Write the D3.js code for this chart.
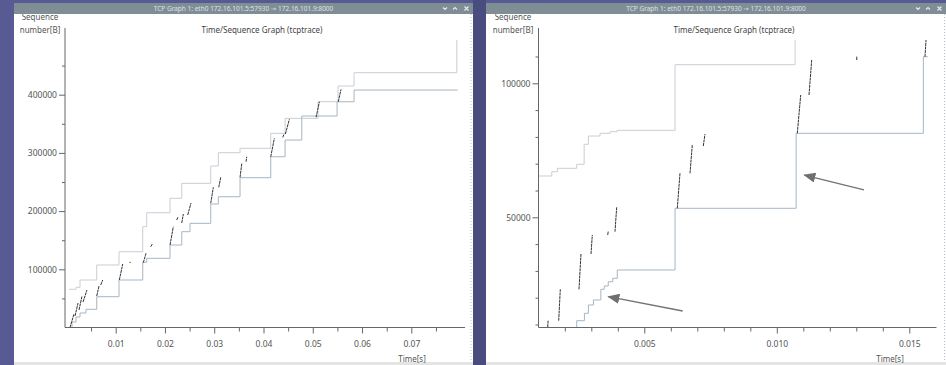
<!DOCTYPE html>
<html>
<head>
<meta charset="utf-8">
<script src="https://cdn.jsdelivr.net/npm/d3@7"></script>
<style>
  body { margin: 0; background: #56588e; }
  svg { display: block; font-family: "Noto Sans", "DejaVu Sans", sans-serif; }
</style>
</head>
<body>
<svg id="shot" width="946" height="365"></svg>
<script>
// Texts
const windowTitle = "TCP Graph 1: eth0 172.16.101.5:57930 \u2192 172.16.101.9:8000";
const chartTitle = "Time/Sequence Graph (tcptrace)";
const yLabelLines = ["Sequence", "number[B]"];
const xLabel = "Time[s]";

// ---- Left window: whole connection ----
// receive window line, step-after [time, seq]
const leftWin = [
  [0.00053, 65600], [0.00195, 69100], [0.00276, 81600], [0.00615, 107400],
  [0.01068, 130200], [0.01549, 173200], [0.0163, 197200], [0.02103, 222000],
  [0.02341, 247700], [0.02929, 277500], [0.03084, 300300], [0.03524, 307900],
  [0.04147, 333600], [0.04438, 359400], [0.05107, 387900], [0.05513, 414900],
  [0.05838, 437800], [0.07923, 560000]
];
// ack line, step-after [time, seq]
const leftAck = [
  [0.00012, 0], [0.00114, 9450], [0.00195, 18000], [0.00276, 24900],
  [0.00398, 31300], [0.00615, 52900], [0.01068, 81600], [0.01549, 112000],
  [0.0163, 118900], [0.02103, 141700], [0.02341, 164600], [0.02509, 179000],
  [0.02929, 212200], [0.03084, 224700], [0.03524, 257400], [0.04147, 293400],
  [0.04438, 322100], [0.04777, 363400], [0.05493, 387900], [0.05838, 408000],
  [0.0794, 408000]
];
// data segment bursts [t0, t1, seq0, seq1]
const leftSegs = [
  [0.00073, 0.00154, 0, 23200], [0.00175, 0.00236, 19800, 42100],
  [0.00256, 0.00317, 30100, 54100], [0.00337, 0.00418, 43800, 64400],
  [0.00615, 0.00662, 54100, 71300], [0.00696, 0.00737, 73000, 81600],
  [0.01074, 0.01143, 81600, 109100], [0.01291, 0.01295, 110800, 112800],
  [0.01561, 0.01616, 111300, 127500], [0.01711, 0.01744, 138800, 143400],
  [0.02103, 0.0217, 141700, 173200], [0.02239, 0.02266, 184700, 190400],
  [0.02341, 0.02373, 179500, 195000], [0.02462, 0.02529, 193300, 213900],
  [0.02929, 0.02982, 213400, 240900], [0.03092, 0.03132, 240900, 258000],
  [0.03524, 0.0356, 258000, 282100], [0.03646, 0.0366, 284900, 293400],
  [0.04147, 0.0422, 293400, 325000], [0.04391, 0.04418, 326800, 332400],
  [0.04444, 0.04525, 332400, 357700], [0.05067, 0.05134, 361100, 387900],
  [0.05518, 0.05573, 387900, 409200]
];
const leftXTicks = [0.01, 0.02, 0.03, 0.04, 0.05, 0.06, 0.07];
const leftXMinor = [0.005, 0.015, 0.025, 0.035, 0.045, 0.055, 0.065, 0.075];
const leftYTicks = [100000, 200000, 300000, 400000];
const leftYMinor = [50000, 150000, 250000, 350000, 450000];

// ---- Right window: zoom on the start ----
const rightWin = [
  [0.00102, 65410], [0.00151, 67010], [0.00172, 68280], [0.00245, 69770],
  [0.00273, 77240], [0.00289, 80330], [0.00333, 81340], [0.00371, 81940],
  [0.00398, 82460], [0.00616, 106930], [0.01069, 130000]
];
const rightAck = [
  [0.00245, 9000], [0.00245, 11420], [0.00274, 14180], [0.00289, 17280],
  [0.00308, 19150], [0.00336, 23140], [0.00349, 24370], [0.00364, 25970],
  [0.00381, 27240], [0.00398, 30340], [0.00616, 53360], [0.01073, 81340],
  [0.01553, 109920], [0.0157, 109920]
];
const rightSegs = [
  [0.001355, 0.00137, 9000, 11420], [0.00177, 0.00183, 11420, 23140],
  [0.002536, 0.002611, 23140, 36310], [0.002989, 0.003038, 36310, 43400],
  [0.003619, 0.003642, 43400, 44890], [0.003894, 0.003958, 44630, 53730],
  [0.006245, 0.006347, 53360, 66420], [0.006725, 0.006811, 66420, 76980],
  [0.007226, 0.007291, 76600, 81060], [0.010774, 0.010902, 81340, 95630],
  [0.011215, 0.011317, 95630, 108690], [0.013015, 0.01302, 108690, 110180],
  [0.015592, 0.015668, 109920, 122000]
];
// annotation arrows [tailT, tailSeq, tipT, tipSeq]
const rightArrows = [
  [0.006449, 15040, 0.003642, 20380],
  [0.013291, 60190, 0.011038, 65780]
];
const rightXTicks = [0.005, 0.010, 0.015];
const rightXMinor = [0.002, 0.003, 0.004, 0.006, 0.007, 0.008, 0.009, 0.011, 0.012, 0.013, 0.014];
const rightYTicks = [50000, 100000];
const rightYMinor = [10000, 20000, 30000, 40000, 60000, 70000, 80000, 90000, 110000];

const svg = d3.select('#shot');

// desktop background and gap between the windows
svg.append('rect').attr('width', 946).attr('height', 365).attr('fill', '#585a93');
svg.append('rect').attr('x', 473).attr('y', 0).attr('width', 13).attr('height', 365).attr('fill', '#4a4b7e');

const panels = [
  {
    id: 'left', winX: 14, winW: 459,
    axisX: 65, axisEnd: 465, axisTop: 28, clipTop: 40, axisY: 327,
    xDomain: [0, 0.08], xRange: [66.4, 460.6],
    yDomain: [0, 500000], yRange: [327.5, 36.5],
    xFormat: d3.format('.2f'),
    titleX: 262, yLabelX: 40, xLabelX: 412,
    win: leftWin, ack: leftAck, segs: leftSegs, arrows: [],
    xTicks: leftXTicks, xMinor: leftXMinor, yTicks: leftYTicks, yMinor: leftYMinor,
    edgeX: 471
  },
  {
    id: 'right', winX: 486, winW: 460,
    axisX: 538.5, axisEnd: 936.5, axisTop: 28, clipTop: 40, axisY: 327,
    xDomain: [0.005, 0.015], xRange: [644.3, 909.3],
    yDomain: [50000, 100000], yRange: [217.3, 83.3],
    xFormat: d3.format('.3f'),
    titleX: 734, yLabelX: 513, xLabelX: 890,
    win: rightWin, ack: rightAck, segs: rightSegs, arrows: rightArrows,
    xTicks: rightXTicks, xMinor: rightXMinor, yTicks: rightYTicks, yMinor: rightYMinor,
    edgeX: 944.5
  }
];

const defs = svg.append('defs');
defs.append('marker')
  .attr('id', 'arrowhead')
  .attr('markerUnits', 'userSpaceOnUse')
  .attr('markerWidth', 12).attr('markerHeight', 10)
  .attr('refX', 11).attr('refY', 5)
  .attr('orient', 'auto')
  .append('path')
  .attr('d', 'M0,0 L12,5 L0,10 Z')
  .attr('fill', '#6f6f6f');

panels.forEach((p) => {
  const g = svg.append('g').attr('class', p.id);

  // window body
  g.append('rect').attr('x', p.winX).attr('y', 14).attr('width', p.winW).attr('height', 351).attr('fill', '#ffffff');
  g.append('rect').attr('x', p.winX).attr('y', 362).attr('width', p.winW).attr('height', 3).attr('fill', '#e4e4e4');
  g.append('line')
    .attr('x1', p.edgeX).attr('x2', p.edgeX).attr('y1', 14).attr('y2', 362)
    .attr('stroke', '#b9bdcc').attr('stroke-dasharray', '1,2');

  const x = d3.scaleLinear().domain(p.xDomain).range(p.xRange);
  const y = d3.scaleLinear().domain(p.yDomain).range(p.yRange);

  // clip for the plot area
  defs.append('clipPath').attr('id', 'clip-' + p.id)
    .append('rect')
    .attr('x', p.axisX).attr('y', p.clipTop)
    .attr('width', p.axisEnd - p.axisX).attr('height', p.axisY - p.clipTop);

  const plot = g.append('g').attr('clip-path', `url(#clip-${p.id})`);
  const stepLine = d3.line().x((d) => x(d[0])).y((d) => y(d[1])).curve(d3.curveStepAfter);

  plot.append('path').datum(p.win)
    .attr('d', stepLine).attr('fill', 'none')
    .attr('stroke', '#c8ced5').attr('stroke-width', 1);
  plot.append('path').datum(p.ack)
    .attr('d', stepLine).attr('fill', 'none')
    .attr('stroke', '#a6b6c5').attr('stroke-width', 1);

  plot.selectAll('line.seg').data(p.segs).join('line')
    .attr('class', 'seg')
    .attr('x1', (d) => x(d[0])).attr('x2', (d) => x(d[1]))
    .attr('y1', (d) => y(d[2])).attr('y2', (d) => y(d[3]))
    .attr('stroke', '#333').attr('stroke-width', 1)
    .attr('stroke-dasharray', '3,0.6');

  // annotation arrows
  g.selectAll('line.arrow').data(p.arrows).join('line')
    .attr('class', 'arrow')
    .attr('x1', (d) => x(d[0])).attr('y1', (d) => y(d[1]))
    .attr('x2', (d) => x(d[2])).attr('y2', (d) => y(d[3]))
    .attr('stroke', '#737373').attr('stroke-width', 1.3)
    .attr('marker-end', 'url(#arrowhead)');

  // axes
  const axisColor = '#666';
  const xAxisG = g.append('g').attr('transform', `translate(0,${p.axisY + 0.5})`);
  xAxisG.call(d3.axisBottom(x).tickValues(p.xTicks).tickFormat(p.xFormat).tickSize(6).tickPadding(7));
  const xMinorG = g.append('g').attr('transform', `translate(0,${p.axisY + 0.5})`);
  xMinorG.call(d3.axisBottom(x).tickValues(p.xMinor).tickFormat('').tickSize(4));

  const yAxisG = g.append('g').attr('transform', `translate(${p.axisX},0)`);
  yAxisG.call(d3.axisLeft(y).tickValues(p.yTicks).tickFormat(d3.format('d')).tickSize(6).tickPadding(2));
  const yMinorG = g.append('g').attr('transform', `translate(${p.axisX},0)`);
  yMinorG.call(d3.axisLeft(y).tickValues(p.yMinor).tickFormat('').tickSize(3));

  [xAxisG, xMinorG, yAxisG, yMinorG].forEach((a) => {
    a.select('.domain').remove();
    a.selectAll('line').attr('stroke', axisColor);
    a.selectAll('text')
      .attr('fill', '#555')
      .style('font-size', '8.5px')
      .style('font-family', '"Noto Sans", "DejaVu Sans", sans-serif');
  });

  g.append('line')
    .attr('x1', p.axisX).attr('x2', p.axisEnd)
    .attr('y1', p.axisY + 0.5).attr('y2', p.axisY + 0.5)
    .attr('stroke', axisColor);
  g.append('line')
    .attr('x1', p.axisX).attr('x2', p.axisX)
    .attr('y1', p.axisTop).attr('y2', p.axisY + 0.5)
    .attr('stroke', axisColor);

  // labels
  g.append('text')
    .attr('x', p.titleX).attr('y', 33)
    .attr('text-anchor', 'middle')
    .attr('fill', '#444').style('font-size', '8px')
    .text(chartTitle);
  g.selectAll('text.ylab').data(yLabelLines).join('text')
    .attr('class', 'ylab')
    .attr('x', p.yLabelX).attr('y', (d, i) => 19.8 + i * 13.5)
    .attr('text-anchor', 'middle')
    .attr('fill', '#555').style('font-size', '8px')
    .text((d) => d);
  g.append('text')
    .attr('x', p.xLabelX).attr('y', 362)
    .attr('text-anchor', 'middle')
    .attr('fill', '#555').style('font-size', '8px')
    .text(xLabel);

  // title bar on top
  g.append('rect').attr('x', p.winX).attr('y', 3).attr('width', p.winW).attr('height', 11).attr('fill', '#7e8e94');
  g.append('text')
    .attr('x', p.winX + p.winW / 2).attr('y', 11.3)
    .attr('text-anchor', 'middle')
    .attr('fill', '#dce3e5').style('font-size', '6.5px')
    .text(windowTitle);

  // window buttons: minimise, maximise, close
  const bx = p.winX + p.winW;
  const btn = g.append('g').attr('stroke', '#e6ecee').attr('stroke-width', 1.1).attr('fill', 'none');
  btn.append('path').attr('d', `M${bx - 30},7.5 L${bx - 28},9.5 L${bx - 26},7.5`);
  btn.append('path').attr('d', `M${bx - 20},9.5 L${bx - 18},7.5 L${bx - 16},9.5`);
  btn.append('path').attr('d', `M${bx - 8.5},6.5 L${bx - 4.5},10.5 M${bx - 4.5},6.5 L${bx - 8.5},10.5`);
});
</script>
</body>
</html>
